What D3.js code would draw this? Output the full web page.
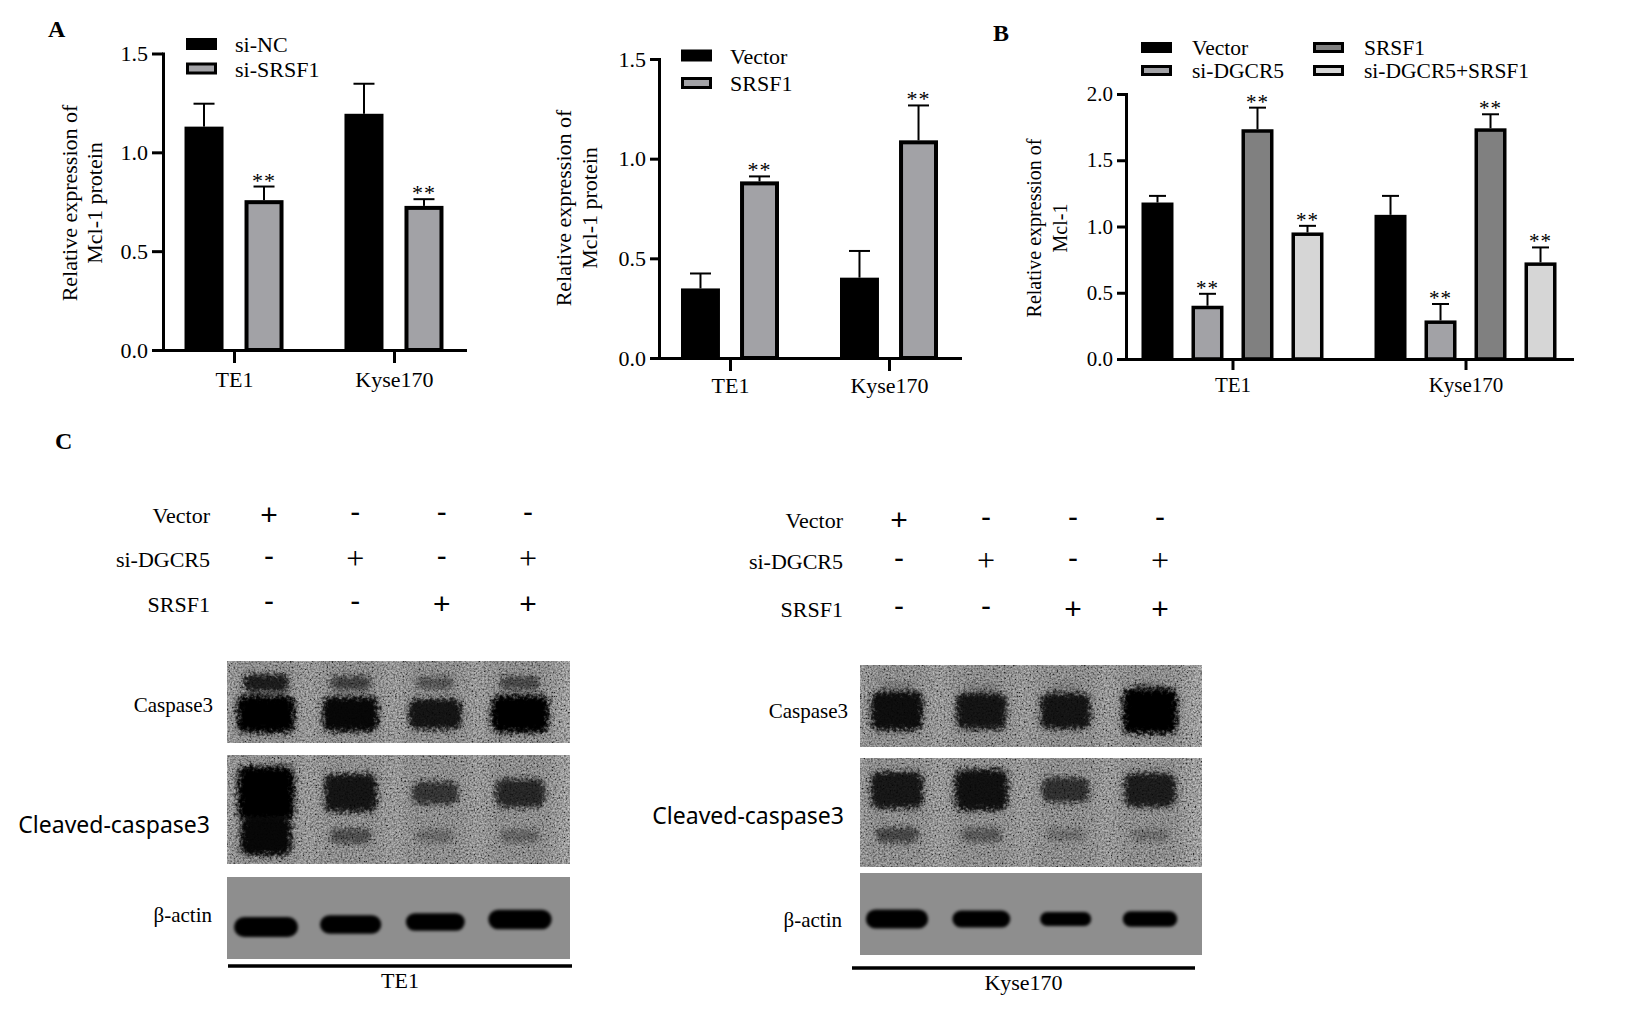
<!DOCTYPE html>
<html><head><meta charset="utf-8">
<script src="https://cdn.jsdelivr.net/npm/d3@7"></script>
<style>html,body{margin:0;padding:0;background:#fff;}svg{display:block;}</style>
</head><body>
<svg id="fig" width="1643" height="1009"></svg>
<script>
// ================= DATA =================
const cellLines = ["TE1", "Kyse170"];

// Panel A (left): knock-down of SRSF1
const a1Series = ["si-NC", "si-SRSF1"];
const a1SiNC = [1.13, 1.195];
const a1SiNCSd = [0.116, 0.152];
const a1SiSRSF1 = [0.758, 0.729];
const a1SiSRSF1Sd = [0.069, 0.034];
const a1Sig = ["", "**"];

// Panel A (right): over-expression of SRSF1
const a2Series = ["Vector", "SRSF1"];
const a2Vector = [0.349, 0.403];
const a2VectorSd = [0.075, 0.134];
const a2SRSF1 = [0.886, 1.092];
const a2SRSF1Sd = [0.025, 0.175];
const a2Sig = ["", "**"];

// Panel B
const bSeries = ["Vector", "si-DGCR5", "SRSF1", "si-DGCR5+SRSF1"];
const bVector = [1.181, 1.088];
const bVectorSd = [0.05, 0.143];
const bSiDGCR5 = [0.402, 0.291];
const bSiDGCR5Sd = [0.09, 0.124];
const bSRSF1 = [1.734, 1.741];
const bSRSF1Sd = [0.163, 0.106];
const bCombo = [0.955, 0.729];
const bComboSd = [0.05, 0.113];
const bSig = ["", "**", "**", "**"];

const yTicksA = [0, 0.5, 1.0, 1.5];
const yTicksB = [0, 0.5, 1.0, 1.5, 2.0];
const yTitleA = ["Relative expression of", "Mcl-1 protein"];
const yTitleB = ["Relative expression of", "Mcl-1"];

// Panel C (western blots)
const lanes = ["L1", "L2", "L3", "L4"];
const conditionNames = ["Vector", "si-DGCR5", "SRSF1"];
const rowVector = ["+", "-", "-", "-"];
const rowSiDGCR5 = ["-", "+", "-", "+"];
const rowSRSF1 = ["-", "-", "+", "+"];
const proteinNames = ["Caspase3", "Cleaved-caspase3", "\u03b2-actin"];

// band intensities (0..1) read from the blots
const te1Caspase3 = [1.0, 0.95, 0.86, 1.0];
const te1Caspase3Upper = [0.8, 0.55, 0.4, 0.5];
const te1Cleaved = [1.0, 0.85, 0.62, 0.72];
const te1CleavedLower = [0.95, 0.45, 0.25, 0.3];
const te1Actin = [1.0, 0.92, 0.85, 0.98];
const kyseCaspase3 = [0.9, 0.85, 0.85, 1.0];
const kyseCaspase3Upper = [0.15, 0.12, 0.1, 0.15];
const kyseCleaved = [0.84, 0.88, 0.66, 0.8];
const kyseCleavedLower = [0.5, 0.38, 0.22, 0.22];
const kyseActin = [0.95, 0.82, 0.62, 0.72];

// ================= DRAWING =================
const SERIF = "'Liberation Serif','Times New Roman',serif";
const SANS = "'Liberation Sans',Arial,sans-serif";
const svg = d3.select("#fig");
const defs = svg.append("defs");

const grain = defs.append("filter").attr("id", "grain")
  .attr("x", 0).attr("y", 0).attr("width", "100%").attr("height", "100%");
grain.append("feTurbulence").attr("type", "fractalNoise").attr("baseFrequency", 0.55)
  .attr("numOctaves", 2).attr("seed", 5).attr("stitchTiles", "stitch");
grain.append("feColorMatrix").attr("type", "matrix")
  .attr("values", "1.7 0 0 0 -0.35  1.7 0 0 0 -0.35  1.7 0 0 0 -0.35  0 0 0 0 1");

const ragged = defs.append("filter").attr("id", "ragged")
  .attr("x", "-40%").attr("y", "-80%").attr("width", "180%").attr("height", "260%");
ragged.append("feTurbulence").attr("type", "fractalNoise").attr("baseFrequency", 0.3)
  .attr("numOctaves", 2).attr("seed", 3).attr("result", "n");
ragged.append("feGaussianBlur").attr("in", "SourceGraphic").attr("stdDeviation", 2.6).attr("result", "b");
ragged.append("feDisplacementMap").attr("in", "b").attr("in2", "n").attr("scale", 12)
  .attr("xChannelSelector", "R").attr("yChannelSelector", "G");

[["blurSmall", 1.6], ["blurWide", 9]].forEach(([id, s]) => {
  defs.append("filter").attr("id", id).attr("x", "-50%").attr("y", "-50%")
    .attr("width", "200%").attr("height", "200%")
    .append("feGaussianBlur").attr("stdDeviation", s);
});

function text(g, str, x, y, size, opts = {}) {
  return g.append("text").attr("x", x).attr("y", y)
    .attr("font-family", opts.family || SERIF).attr("font-size", size)
    .attr("font-weight", opts.weight || "normal")
    .attr("text-anchor", opts.anchor || "start").attr("fill", "#000").text(str);
}

function barChart(o) {
  const g = svg.append("g");
  const y = d3.scaleLinear().domain([0, o.yMax]).range([o.y0, o.yTop]);
  const x0 = d3.scalePoint().domain(cellLines).range([o.xLeft, o.xRight]).padding(o.catPad);
  const x1 = d3.scaleBand().domain(o.series).range([-o.groupW / 2, o.groupW / 2]).paddingInner(o.innerPad);
  const rows = [];
  o.series.forEach((s, si) => cellLines.forEach((c, ci) =>
    rows.push({ s, si, c, v: o.values[si][ci], sd: o.sds[si][ci], sig: o.sig[si] })));
  const sw = o.barStroke;
  const cx = d => x0(d.c) + x1(d.s) + x1.bandwidth() / 2;

  g.selectAll("rect.bar").data(rows).join("rect").attr("class", "bar")
    .attr("x", d => x0(d.c) + x1(d.s) + sw / 2)
    .attr("y", d => y(d.v) + sw / 2)
    .attr("width", x1.bandwidth() - sw)
    .attr("height", d => Math.max(0, y(0) - y(d.v) - sw / 2))
    .attr("fill", d => o.fills[d.si]).attr("stroke", "#000").attr("stroke-width", sw);

  g.selectAll("line.err").data(rows).join("line").attr("class", "err")
    .attr("x1", cx).attr("x2", cx)
    .attr("y1", d => y(d.v)).attr("y2", d => y(d.v + d.sd))
    .attr("stroke", "#000").attr("stroke-width", o.errW);
  g.selectAll("line.cap").data(rows).join("line").attr("class", "cap")
    .attr("x1", d => cx(d) - o.capW / 2).attr("x2", d => cx(d) + o.capW / 2)
    .attr("y1", d => y(d.v + d.sd)).attr("y2", d => y(d.v + d.sd))
    .attr("stroke", "#000").attr("stroke-width", o.errW);
  g.selectAll("text.sig").data(rows.filter(d => d.sig)).join("text").attr("class", "sig")
    .attr("x", cx).attr("y", d => y(d.v + d.sd) + o.sigDy)
    .attr("text-anchor", "middle").attr("font-family", SERIF)
    .attr("font-size", o.fs).attr("letter-spacing", 1).text(d => d.sig);

  // y axis
  const ya = g.append("g").attr("transform", `translate(${o.xLeft},0)`)
    .call(d3.axisLeft(y).tickValues(o.ticks).tickFormat(d3.format(".1f"))
      .tickSize(o.tickLen).tickSizeOuter(0).tickPadding(o.tickPad));
  ya.select(".domain").attr("stroke-width", o.axisW).attr("stroke-linecap", "square");
  ya.selectAll(".tick line").attr("stroke-width", o.axisW);
  ya.selectAll(".tick text").attr("font-family", SERIF).attr("font-size", o.fs).attr("fill", "#000");
  // x axis
  const xa = g.append("g").attr("transform", `translate(0,${o.y0})`)
    .call(d3.axisBottom(x0).tickSize(o.xTickLen).tickSizeOuter(0));
  xa.select(".domain").attr("stroke-width", o.axisW).attr("stroke-linecap", "square");
  xa.selectAll(".tick line").attr("stroke-width", o.axisW);
  xa.selectAll(".tick text").attr("font-family", SERIF).attr("font-size", o.catFs)
    .attr("fill", "#000").attr("dy", null).attr("y", o.catBaseline - o.y0);

  // y title
  o.title.forEach((t, i) => {
    g.append("text").attr("transform", `translate(${o.titleX[i]},${o.titleY}) rotate(-90)`)
      .attr("text-anchor", "middle").attr("font-family", SERIF)
      .attr("font-size", o.titleFs).text(t);
  });

  // legend
  o.series.forEach((s, i) => {
    const col = Math.floor(i / o.legRows), row = i % o.legRows;
    const lx = o.legX[col], ly = o.legY[row];
    const ls = o.legStroke;
    g.append("rect").attr("x", lx + ls / 2).attr("y", ly - o.legH / 2 + ls / 2)
      .attr("width", o.legW - ls).attr("height", o.legH - ls)
      .attr("fill", o.fills[i]).attr("stroke", "#000").attr("stroke-width", ls);
    text(g, s, lx + o.legTextDx, ly + o.legBaseDy, o.legFs);
  });
}

// Panel A left
barChart({
  series: a1Series, values: [a1SiNC, a1SiSRSF1], sds: [a1SiNCSd, a1SiSRSF1Sd], sig: a1Sig,
  fills: ["#000000", "#a2a2a6"], yMax: 1.5, ticks: yTicksA,
  xLeft: 163, xRight: 465, y0: 350, yTop: 53.5, catPad: 0.444, groupW: 99, innerPad: 0.35,
  barStroke: 4, errW: 2, capW: 21, sigDy: 1, axisW: 3, tickLen: 11, tickPad: 4, xTickLen: 13,
  fs: 22, catFs: 22, catBaseline: 387, title: yTitleA, titleX: [77, 102], titleY: 203, titleFs: 22,
  legRows: 2, legX: [186], legY: [44, 68.5], legW: 31, legH: 12, legStroke: 3,
  legTextDx: 49, legBaseDy: 8, legFs: 22
});
// Panel A right
barChart({
  series: a2Series, values: [a2Vector, a2SRSF1], sds: [a2VectorSd, a2SRSF1Sd], sig: a2Sig,
  fills: ["#000000", "#a2a2a6"], yMax: 1.5, ticks: yTicksA,
  xLeft: 659, xRight: 960, y0: 358, yTop: 59, catPad: 0.4465, groupW: 98, innerPad: 0.34,
  barStroke: 4, errW: 2, capW: 21, sigDy: 1, axisW: 3, tickLen: 9, tickPad: 4, xTickLen: 13,
  fs: 22, catFs: 22, catBaseline: 393, title: yTitleA, titleX: [571, 597], titleY: 208, titleFs: 22,
  legRows: 2, legX: [681], legY: [55.5, 83], legW: 31, legH: 12, legStroke: 3,
  legTextDx: 49, legBaseDy: 8, legFs: 22
});
// Panel B
barChart({
  series: bSeries, values: [bVector, bSiDGCR5, bSRSF1, bCombo],
  sds: [bVectorSd, bSiDGCR5Sd, bSRSF1Sd, bComboSd], sig: bSig,
  fills: ["#000000", "#a2a2a6", "#808080", "#d6d6d6"], yMax: 2, ticks: yTicksB,
  xLeft: 1126, xRight: 1572, y0: 359, yTop: 94, catPad: 0.457, groupW: 182, innerPad: 0.36,
  barStroke: 3.5, errW: 2, capW: 17, sigDy: 1, axisW: 3, tickLen: 9, tickPad: 4, xTickLen: 11,
  fs: 21, catFs: 21, catBaseline: 392, title: yTitleB, titleX: [1041, 1067], titleY: 228, titleFs: 20,
  legRows: 2, legX: [1141, 1313], legY: [47.5, 70.5], legW: 31, legH: 11, legStroke: 3,
  legTextDx: 51, legBaseDy: 7.5, legFs: 21.5
});

// Panel letters
const lab = svg.append("g");
text(lab, "A", 48, 37, 24, { weight: "bold" });
text(lab, "B", 993, 41, 24, { weight: "bold" });
text(lab, "C", 55, 449, 24, { weight: "bold" });

// ---------- Panel C ----------
function blotSet(o) {
  const g = svg.append("g");
  // header (treatment matrix)
  const hx = d3.scalePoint().domain(lanes).range(o.headerRange);
  const rowsSym = [rowVector, rowSiDGCR5, rowSRSF1];
  conditionNames.forEach((nm, r) => {
    text(g, nm, o.headerLabelX, o.headerY[r], 22, { anchor: "end" });
    rowsSym[r].forEach((s, li) => {
      const thin = r === 1 && s === "+";
      g.append("text").attr("x", hx(lanes[li])).attr("y", o.headerY[r] + (s === "-" ? -1 : 2))
        .attr("text-anchor", "middle")
        .attr("font-family", thin ? SERIF : SANS)
        .attr("font-size", thin ? 32 : 30).attr("fill", "#000").text(s);
    });
  });

  const lx = d3.scalePoint().domain(lanes).range(o.laneRange);

  function panel(p) {
    const pg = g.append("g");
    const clipId = "clip" + Math.round(p.x) + "_" + Math.round(p.y);
    defs.append("clipPath").attr("id", clipId).append("rect")
      .attr("x", p.x).attr("y", p.y).attr("width", p.w).attr("height", p.h);
    const inner = pg.append("g").attr("clip-path", `url(#${clipId})`);
    inner.append("rect").attr("x", p.x).attr("y", p.y).attr("width", p.w).attr("height", p.h).attr("fill", p.bg);
    if (p.noisy) {
      // darker lane tracks -> lighter gaps between lanes
      inner.selectAll(null).data(lanes).join("rect")
        .attr("x", d => lx(d) - 36).attr("y", p.y - 20).attr("width", 72).attr("height", p.h + 40)
        .attr("fill", "#555555").attr("opacity", 0.4).attr("filter", "url(#blurWide)");
    }
    p.bands.forEach(b => {
      inner.selectAll(null).data(b.data).join("rect")
        .attr("x", (d, i) => lx(lanes[i]) - b.w(d) / 2)
        .attr("y", (d, i) => b.cy(i) - b.h(d) / 2)
        .attr("width", d => b.w(d)).attr("height", d => b.h(d))
        .attr("rx", d => Math.min(b.h(d) / 2, b.rx)).attr("fill", "#000")
        .attr("opacity", d => b.op(d)).attr("filter", `url(#${b.blur})`);
    });
    if (p.noisy) {
      inner.append("rect").attr("x", p.x).attr("y", p.y).attr("width", p.w).attr("height", p.h)
        .attr("filter", "url(#grain)").style("mix-blend-mode", "overlay").attr("opacity", 0.65);
    }
    text(g, p.label, p.labelX, p.labelY, p.labelFs, { anchor: "end", family: p.labelFamily });
  }

  const op = d3.scaleLinear().domain([0, 1]).range([0, 1]).clamp(true);
  const full = () => 1;
  // Caspase3
  panel({
    x: o.x, y: o.casY, w: o.w, h: 82, bg: "#7a7a7a", noisy: true,
    label: proteinNames[0], labelX: o.casLabel[0], labelY: o.casLabel[1], labelFs: 21, labelFamily: SERIF,
    bands: [
      { data: o.cas, w: d3.scaleLinear([0, 1], [24, o.casW]), h: d3.scalePow().exponent(2).domain([0, 1]).range([12, o.casH]),
        cy: () => o.casY + o.casCy, op: op, rx: 9, blur: "ragged" },
      { data: o.casUp, w: d3.scaleLinear([0, 1], [30, o.casW - 8]), h: d3.scaleLinear([0, 1], [8, 20]),
        cy: () => o.casY + 22, op: op, rx: 7, blur: "ragged" }
    ]
  });
  // Cleaved caspase3
  panel({
    x: o.x, y: o.clY, w: o.w, h: 109, bg: "#7a7a7a", noisy: true,
    label: proteinNames[1], labelX: o.clLabel[0], labelY: o.clLabel[1], labelFs: 23, labelFamily: "'Noto Sans',sans-serif",
    bands: [
      { data: o.cl, w: d3.scaleLinear([0, 1], [30, 57]), h: d3.scalePow().exponent(3).domain([0, 1]).range([14, 54]),
        cy: () => o.clY + o.clCy[0], op: op, rx: 9, blur: "ragged" },
      { data: o.clLow, w: d3.scaleLinear([0, 1], [34, 52]), h: d3.scalePow().exponent(3).domain([0, 1]).range([12, 44]),
        cy: () => o.clY + o.clCy[1], op: op, rx: 9, blur: "ragged" }
    ]
  });
  // beta-actin
  panel({
    x: o.x, y: o.acY, w: o.w, h: 82, bg: "#8e8e8e", noisy: false,
    label: proteinNames[2], labelX: o.acLabel[0], labelY: o.acLabel[1], labelFs: 21, labelFamily: SERIF,
    bands: [
      { data: o.ac, w: d3.scaleLinear([0, 1], [30, 64]), h: d3.scaleLinear([0, 1], [4, 20]),
        cy: i => o.acY + o.acCy - o.acTilt * i, op: full, rx: 12, blur: "blurSmall" }
    ]
  });
  // underline + cell-line name
  g.append("line").attr("x1", o.line[0]).attr("x2", o.line[1]).attr("y1", o.line[2]).attr("y2", o.line[2])
    .attr("stroke", "#000").attr("stroke-width", 3.5);
  text(g, o.name, (o.line[0] + o.line[1]) / 2, o.nameY, 22, { anchor: "middle" });
}

blotSet({
  name: cellLines[0], x: 227, w: 343,
  headerRange: [269, 528], headerLabelX: 210, headerY: [523, 567, 612],
  laneRange: [266, 520],
  casY: 661, casCy: 53, casH: 38, casW: 58,
  clY: 755, clCy: [38, 81], acY: 877, acCy: 50, acTilt: 2.5,
  cas: te1Caspase3, casUp: te1Caspase3Upper,
  cl: te1Cleaved, clLow: te1CleavedLower, ac: te1Actin,
  casLabel: [213, 712], clLabel: [210, 833], acLabel: [212, 922],
  line: [228, 572, 966], nameY: 988
});
blotSet({
  name: cellLines[1], x: 860, w: 342,
  headerRange: [899, 1160], headerLabelX: 843, headerY: [528, 569, 617],
  laneRange: [897, 1150],
  casY: 665, casCy: 46, casH: 46, casW: 55,
  clY: 758, clCy: [32, 77], acY: 873, acCy: 46, acTilt: 0,
  cas: kyseCaspase3, casUp: kyseCaspase3Upper,
  cl: kyseCleaved, clLow: kyseCleavedLower, ac: kyseActin,
  casLabel: [848, 718], clLabel: [844, 824], acLabel: [842, 927],
  line: [852, 1195, 968], nameY: 990
});
</script>
</body></html>
